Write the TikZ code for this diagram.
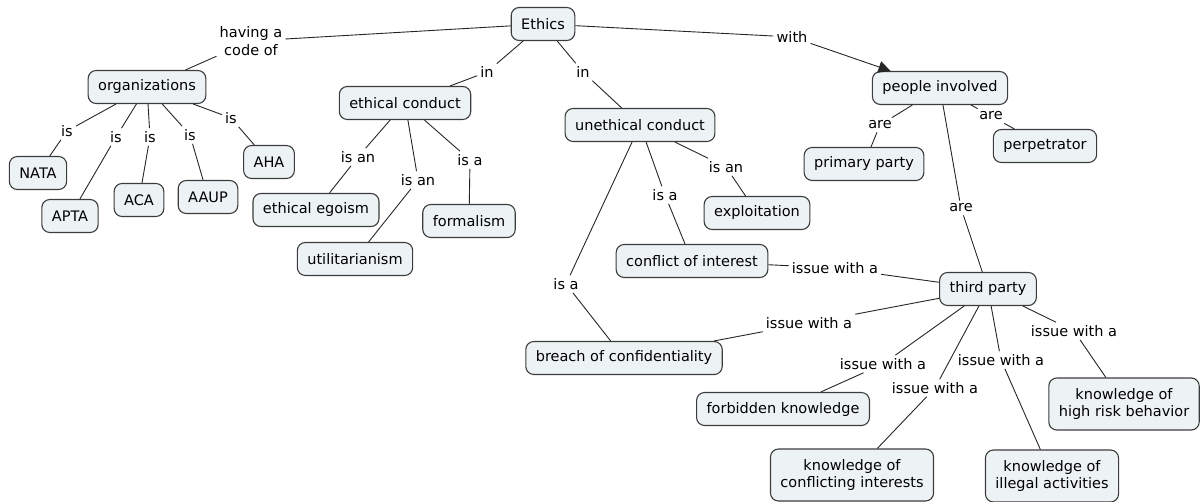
\documentclass[tikz,border=0pt]{standalone}
\usepackage{fontspec}
\setmainfont{DejaVu Sans}
\usetikzlibrary{arrows.meta}
\definecolor{boxfill}{RGB}{237,243,245}
\definecolor{boxline}{RGB}{60,60,60}

\tikzset{
  concept/.style={draw=boxline,fill=boxfill,rounded corners=8pt,line width=1.1pt,
    inner xsep=10pt,minimum height=33pt,align=center,
    font=\fontsize{14.5}{17.5}\selectfont},
  tall/.style={minimum height=52pt},
  linkword/.style={inner sep=3pt,align=center,font=\fontsize{14.5}{17.5}\selectfont},
  link/.style={line width=.9pt,draw=black!85}
}

\begin{document}
\begin{tikzpicture}[x=1pt,y=-1pt]
  \useasboundingbox (0,0) rectangle (1204,502);
  \node[concept] (ethics) at (543,24) {Ethics};
  \node[concept] (org) at (147,87) {organizations};
  \node[concept] (nata) at (38,173) {NATA};
  \node[concept] (apta) at (70,216) {APTA};
  \node[concept] (aca) at (139,200) {ACA};
  \node[concept] (aaup) at (208,197) {AAUP};
  \node[concept] (aha) at (269,162) {AHA};
  \node[concept] (ethcond) at (405,103) {ethical conduct};
  \node[concept] (egoism) at (316,210) {ethical egoism};
  \node[concept] (util) at (355,259) {utilitarianism};
  \node[concept] (formal) at (469,221) {formalism};
  \node[concept] (unethcond) at (640,125) {unethical conduct};
  \node[concept] (exploit) at (757,213) {exploitation};
  \node[concept] (conflict) at (692,261) {conflict of interest};
  \node[concept] (breach) at (624,358) {breach of confidentiality};
  \node[concept] (people) at (940,88) {people involved};
  \node[concept] (primary) at (864,164) {primary party};
  \node[concept] (perp) at (1045,146) {perpetrator};
  \node[concept] (third) at (988,289) {third party};
  \node[concept] (forbid) at (783,409) {forbidden knowledge};
  \node[concept,tall] (kconfl) at (852,475) {knowledge of\\conflicting interests};
  \node[concept,tall] (killeg) at (1052,476) {knowledge of\\illegal activities};
  \node[concept,tall] (krisk) at (1124,404) {knowledge of\\high risk behavior};

  \node[linkword] (lcode) at (251,41) {having a\\code of};
  \node[linkword] (lnata) at (67,131) {is};
  \node[linkword] (lapta) at (116,137) {is};
  \node[linkword] (laca) at (150,137) {is};
  \node[linkword] (laaup) at (190,135) {is};
  \node[linkword] (laha) at (231,118) {is};
  \node[linkword] (lin1) at (487,72) {in};
  \node[linkword] (lin2) at (583,72) {in};
  \node[linkword] (lwith) at (792,37) {with};
  \node[linkword] (lego) at (358,157) {is an};
  \node[linkword] (lutil) at (418,180) {is an};
  \node[linkword] (lform) at (470,160) {is a};
  \node[linkword] (lconf) at (665,195) {is a};
  \node[linkword] (lexpl) at (726,167) {is an};
  \node[linkword] (lbrea) at (566,284) {is a};
  \node[linkword] (lprim) at (880,125) {are};
  \node[linkword] (lperp) at (991,116) {are};
  \node[linkword] (lthird) at (961,208) {are};
  \node[linkword] (iconf) at (835,268) {issue with a};
  \node[linkword] (ibrea) at (809,323) {issue with a};
  \node[linkword] (iforb) at (883,364) {issue with a};
  \node[linkword] (ikcon) at (935,388) {issue with a};
  \node[linkword] (ikill) at (1001,360) {issue with a};
  \node[linkword] (ikris) at (1074,331) {issue with a};

  \draw[link] (ethics) -- (lcode) -- (org);
  \draw[link] (org) -- (lnata) -- (nata);
  \draw[link] (org) -- (lapta) -- (apta);
  \draw[link] (org) -- (laca) -- (aca);
  \draw[link] (org) -- (laaup) -- (aaup);
  \draw[link] (org) -- (laha) -- (aha);
  \draw[link] (ethics) -- (lin1) -- (ethcond);
  \draw[link] (ethics) -- (lin2) -- (unethcond);
  \draw[link] (ethics) -- (lwith);
  \draw[link,-{Triangle[length=12pt,width=12pt]}] (lwith) -- (people);
  \draw[link] (ethcond) -- (lego) -- (egoism);
  \draw[link] (ethcond) -- (lutil) -- (util);
  \draw[link] (ethcond) -- (lform) -- (formal);
  \draw[link] (unethcond) -- (lconf) -- (conflict);
  \draw[link] (unethcond) -- (lexpl) -- (exploit);
  \draw[link] (unethcond) -- (lbrea) -- (breach);
  \draw[link] (people) -- (lprim) -- (primary);
  \draw[link] (people) -- (lperp) -- (perp);
  \draw[link] (people) -- (lthird) -- (third);
  \draw[link] (conflict) -- (iconf) -- (third);
  \draw[link] (breach) -- (ibrea) -- (third);
  \draw[link] (third) -- (iforb) -- (forbid);
  \draw[link] (third) -- (ikcon) -- (kconfl);
  \draw[link] (third) -- (ikill) -- (killeg);
  \draw[link] (third) -- (ikris) -- (krisk);
\end{tikzpicture}
\end{document}
